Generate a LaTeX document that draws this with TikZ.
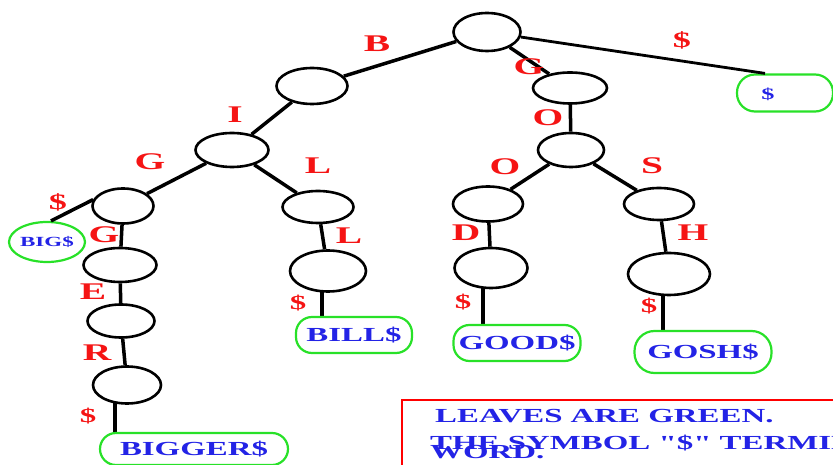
\documentclass[tikz,border=0pt]{standalone}
\usepackage{fontspec}
\usepackage{graphicx}
\setmainfont{Liberation Serif}[Ligatures=TeXOff]
\usetikzlibrary{shapes.geometric}
\pgfdeclarelayer{background}
\pgfsetlayers{background,main}
\definecolor{lblred}{RGB}{245,20,20}
\definecolor{leafblue}{RGB}{35,35,230}
\definecolor{leafgreen}{RGB}{40,225,40}
\newcommand{\strtxt}[1]{\scalebox{1.65}[1]{#1}}
\tikzset{
  inner/.style={ellipse, draw=black, fill=white, line width=2.6bp, inner sep=0pt, minimum width=70bp, minimum height=35bp},
  leafshape/.style={draw=leafgreen, fill=white, line width=2.2bp, rounded corners=16bp, inner sep=0pt, minimum height=36bp, text=leafblue, font=\bfseries\fontsize{20}{20}\selectfont},
  leaftext/.style={text=leafblue, inner sep=0pt, font=\bfseries\fontsize{20}{20}\selectfont},
  lbl/.style={text=lblred, inner sep=0pt, font=\bfseries\fontsize{24}{24}\selectfont},
  lbls/.style={text=lblred, inner sep=0pt, font=\bfseries\fontsize{20}{20}\selectfont},
  edge/.style={draw=black, line width=3.5bp},
  note/.style={text=leafblue, inner sep=0pt, anchor=west, font=\bfseries\fontsize{20}{20}\selectfont}
}
\begin{document}
\begin{tikzpicture}[x=1bp,y=-1bp]
\useasboundingbox (0,0) rectangle (833,465);
\clip (0,0) rectangle (833,465);
% inner nodes
\node[inner, minimum width=67bp, minimum height=38bp] (root) at (487,32) {};
\node[inner, minimum width=71bp, minimum height=36bp] (nB) at (312,86) {};
\node[inner, minimum width=73bp, minimum height=34bp] (nBI) at (232,150) {};
\node[inner, minimum width=61bp, minimum height=35bp] (nBIG) at (123,206) {};
\node[inner, minimum width=71bp, minimum height=32bp] (nBIL) at (318,207) {};
\node[inner, minimum width=73bp, minimum height=34bp] (nBIGG) at (120,265) {};
\node[inner, minimum width=67bp, minimum height=33bp] (nBIGGE) at (121,321) {};
\node[inner, minimum width=68bp, minimum height=37bp] (nBIGGER) at (127,385) {};
\node[inner, minimum width=76bp, minimum height=41bp] (nBILL) at (328,271) {};
\node[inner, minimum width=74bp, minimum height=31bp] (nG) at (570,88) {};
\node[inner, minimum width=66bp, minimum height=34bp] (nGO) at (571,150) {};
\node[inner, minimum width=70bp, minimum height=35bp] (nGOO) at (488,204) {};
\node[inner, minimum width=70bp, minimum height=32bp] (nGOS) at (659,204) {};
\node[inner, minimum width=73bp, minimum height=40bp] (nGOOD) at (491,268) {};
\node[inner, minimum width=82bp, minimum height=42bp] (nGOSH) at (669,274) {};
% leaves
\node[leafshape, ellipse, minimum width=70bp, minimum height=40bp, font=\bfseries\fontsize{14}{14}\selectfont] (lBIG) at (47,242) {\strtxt{BIG\$}};
\node[leafshape, minimum width=188bp, minimum height=32bp] (lBIGGER) at (194,449) {\strtxt{BIGGER\$}};
\node[leafshape, minimum width=116bp, minimum height=36bp] (lBILL) at (354,335) {\strtxt{BILL\$}};
\node[leafshape, minimum width=127bp, minimum height=36bp] (lGOOD) at (517,343) {\strtxt{GOOD\$}};
\node[leafshape, minimum width=137bp, minimum height=42bp, rounded corners=20bp] (lGOSH) at (703,352) {\strtxt{GOSH\$}};
\node[leafshape, minimum width=96bp, minimum height=37bp, rounded corners=18bp] (lD) at (785,93) {};
\node[leaftext, font=\bfseries\fontsize{16}{16}\selectfont] (tD) at (768,94) {\strtxt{\$}};
% edges
\draw[edge] (root) -- (nB);
\draw[edge] (root) -- (nG);
\draw[edge, line width=2.8bp] (root) -- ([xshift=-20bp]lD.north);
\draw[edge] (nB) -- (nBI);
\draw[edge] (nBI) -- (nBIG);
\draw[edge] (nBI) -- (nBIL);
\draw[edge] (nBIG.168) -- ([xshift=4bp]lBIG.north);
\draw[edge] (nBIG) -- (nBIGG);
\draw[edge] (nBIGG) -- (nBIGGE);
\draw[edge] (nBIGGE) -- (nBIGGER);
\draw[edge] (nBIL) -- (nBILL);
\draw[edge] (nG) -- (nGO);
\draw[edge] (nGO) -- (nGOO);
\draw[edge] (nGO) -- (nGOS);
\draw[edge] (nGOO) -- (nGOOD);
\draw[edge] (nGOS) -- (nGOSH);
\begin{pgfonlayer}{background}
\draw[edge] ([xshift=-12bp]nBIGGER.center) -- ([xshift=-12bp]nBIGGER.center |- lBIGGER.center);
\draw[edge] ([xshift=-6bp]nBILL.center) -- ([xshift=-6bp]nBILL.center |- lBILL.center);
\draw[edge] ([xshift=-8bp]nGOOD.center) -- ([xshift=-8bp]nGOOD.center |- lGOOD.center);
\draw[edge] ([xshift=-6bp]nGOSH.center) -- ([xshift=-6bp]nGOSH.center |- lGOSH.center);
\end{pgfonlayer}
% edge labels
\node[lbl] (tB) at (377,44) {\strtxt{B}};
\node[lbl] (tI) at (235,115) {\strtxt{I}};
\node[lbl] (tG1) at (150,162) {\strtxt{G}};
\node[lbl] (tL1) at (318,166) {\strtxt{L}};
\node[lbls, font=\bfseries\fontsize{22}{22}\selectfont] (tS1) at (58,202) {\strtxt{\$}};
\node[lbl] (tG2) at (104,235) {\strtxt{G}};
\node[lbl] (tL2) at (349,236) {\strtxt{L}};
\node[lbl] (tE) at (93,292) {\strtxt{E}};
\node[lbl] (tR) at (97,353) {\strtxt{R}};
\node[lbls] (tS2) at (88,416) {\strtxt{\$}};
\node[lbls] (tS3) at (298,303) {\strtxt{\$}};
\node[lbls, font=\bfseries\fontsize{22}{22}\selectfont] (tS0) at (682,40) {\strtxt{\$}};
\node[lbl] (tG3) at (529,67) {\strtxt{G}};
\node[lbl] (tO1) at (548,118) {\strtxt{O}};
\node[lbl] (tO2) at (505,167) {\strtxt{O}};
\node[lbl] (tS) at (652,166) {\strtxt{S}};
\node[lbl] (tDl) at (466,233) {\strtxt{D}};
\node[lbl] (tH) at (693,233) {\strtxt{H}};
\node[lbls] (tS4) at (463,302) {\strtxt{\$}};
\node[lbls] (tS5) at (649,306) {\strtxt{\$}};
% note box
\draw[draw=red, line width=2bp] (402,400) rectangle (900,520);
\node[note] (n1) at (435,416) {\strtxt{LEAVES ARE GREEN.}};
\node[note] (n2) at (430,443) {\strtxt{THE SYMBOL "\$" TERMINATES A}};
\node[note] (n3) at (430,452) {\strtxt{WORD.}};
\end{tikzpicture}
\end{document}
